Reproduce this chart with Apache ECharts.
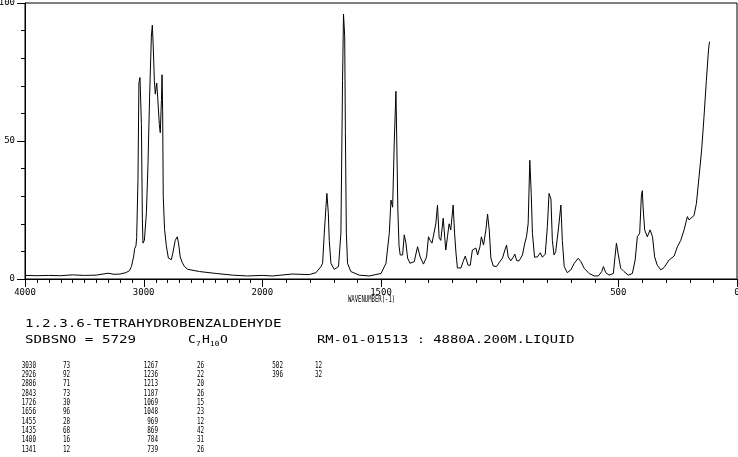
<!DOCTYPE html>
<html>
<head>
<meta charset="utf-8">
<script src="https://cdn.jsdelivr.net/npm/echarts@6/dist/echarts.min.js"></script>
<style>
  html, body { margin: 0; padding: 0; background: #fff; }
  #chart { width: 738px; height: 457px; }
</style>
</head>
<body>
<div id="chart"></div>
<script>
// spectrum trace (wavenumber cm-1, intensity %)
var wavenumber = [4000,3900,3800,3700,3600,3500,3400,3300,3250,3200,3150,3120,3103,3085,3076,3065,3059,3048,3040,3031,
  3019,3011,3006,2994,2977,2964,2950,2935,2927,2919,2910,2902,2890,2882,2868,2860,2850,2845,2840,2835,
  2824,2809,2792,2767,2754,2734,2717,2706,2692,2675,2656,2628,2529,2389,2252,2126,2000,1958,1874,1802,
  1774,1753,1746,1739,1732,1728,1722,1718,1711,1697,1679,1669,1662,1658,1653,1650,1646,1641,1627,1592,
  1550,1500,1479,1465,1458,1451,1444,1437,1433,1429,1424,1419,1409,1402,1395,1388,1378,1360,1346,1341,
  1335,1321,1308,1300,1293,1285,1276,1269,1262,1255,1248,1238,1227,1220,1213,1206,1196,1190,1184,1178,
  1163,1154,1145,1140,1133,1124,1115,1100,1093,1083,1077,1068,1058,1051,1044,1037,1027,1013,999,988,
  978,971,964,953,943,936,928,918,904,894,887,880,873,867,862,853,841,829,820,808,
  799,792,784,778,771,764,752,742,736,728,715,700,686,669,658,644,623,602,584,570,
  563,553,539,521,514,508,500,490,476,468,458,455,441,429,420,410,403,399,395,389,
  378,366,356,347,336,321,307,286,265,251,237,223,209,202,195,181,171,160,149,139,
  129,120,116];
var intensity = [1.3,1.2,1.3,1.2,1.5,1.3,1.4,2.1,1.7,1.8,2.3,3.0,4.5,8,11,12,15,36,71,73,
  56,22,13,14,24,41,66,88,92,84,72,67,71,66,56,53,65,74,61,30,
  18,12,7.6,7,9.4,14,15.3,13,8,6,4.5,3.5,2.7,2,1.4,1.1,1.3,1.1,1.8,1.6,
  2.3,4.5,5.7,16.6,26,31,24,14,5.7,3.5,4.5,16.6,72,96,88,53,16.6,5.7,2.7,1.4,
  1.1,2,5.7,16.6,28.6,26,50,68,47,25,12,8.7,8.7,16,13,7.6,5.7,6.3,11.7,12,
  8,5.4,8,15.3,14,13,17,20,26.8,15,14,22,10.5,15.3,20,17.8,26.8,16.6,9.4,4,
  4,6.3,8.3,8.3,5,5,10.5,11.2,8.7,11.7,15.3,12.3,17.8,23.5,17.8,7.6,4.7,4.5,6.3,7.6,
  10.5,12.3,8,6.6,7.9,9,6.6,6.6,8.7,13,15.3,20,43,31,16.6,7.9,8,9.5,7.9,9,
  19,31,29,14,8.7,9.9,18.5,26.8,14,4.5,2.3,3.3,5.7,7.5,6.3,3.9,2,1.1,1.1,2.7,
  4.5,2.3,1.4,2,8,13,8.7,3.9,2.7,3.3,1.4,0.9,2,6.9,15.3,16.6,30,32,25,17.8,
  15.3,17.8,15.3,8,5,3.3,4.2,6.9,8.3,11.7,14,17.8,22.6,21.4,21,23,27.4,37,46.7,58.8,
  72,83,86];

// axis ticks and labels (wavenumber)
var tickWave = [];
for (var t = 0; t <= 4000; t += 100) tickWave.push(t);
var labelWave = [4000, 3000, 2000, 1500, 500, 0];

// peak table
var peakWave = ['3030','2926','2886','2843','1726','1656','1455','1435','1400','1341',
  '1267','1236','1213','1187','1069','1048','969','869','784','739','502','396'];
var peakInt = ['73','92','71','73','30','96','28','68','16','12',
  '26','22','20','26','15','23','12','42','31','26','12','32'];

// the scale is halved above 2000 cm-1
function toU(w) { return w > 2000 ? 2000 + (w - 2000) / 2 : w; }
function toW(u) { return u > 2000 ? 2000 + (u - 2000) * 2 : u; }

var MONO = 'DejaVu Sans Mono';
function txt(x, y, s, size, sx, align) {
  return {
    type: 'text', x: x, y: y, scaleX: sx, silent: true,
    style: { text: s, fontSize: size, fontFamily: MONO, fill: '#000',
      align: align || 'left', verticalAlign: 'middle' }
  };
}

var graphics = [];
graphics.push(txt(25, 324, '1.2.3.6-TETRAHYDROBENZALDEHYDE', 10, 1.42));
graphics.push(txt(25, 340, 'SDBSNO = 5729', 10, 1.42));
graphics.push(txt(188, 340, 'C', 10, 1.3));
graphics.push(txt(196, 344, '7', 7, 1.1));
graphics.push(txt(202, 340, 'H', 10, 1.3));
graphics.push(txt(210, 344, '10', 7, 1.1));
graphics.push(txt(220, 340, 'O', 10, 1.3));
graphics.push(txt(317, 340, 'RM-01-01513 : 4880A.200M.LIQUID', 10, 1.38));
graphics.push(txt(348, 300, 'WAVENUMBER(-1)', 8, 0.7));

var colWn = [36, 158, 283], colInt = [63, 197, 315];
for (var i = 0; i < peakWave.length; i++) {
  var c = Math.floor(i / 10), r = i % 10;
  var y = 365.5 + r * 9.3;
  graphics.push(txt(colWn[c], y, peakWave[i], 9, 0.66, 'right'));
  graphics.push(txt(colInt[c], y, peakInt[i], 9, 0.66, 'left'));
}

var trace = wavenumber.map(function (w, k) { return [toU(w), intensity[k]]; });
// x ticks: every 100 cm-1, long ones at the labelled values
var tickData = tickWave.map(function (w) {
  return [toU(w), labelWave.indexOf(w) >= 0 ? 8 : 4];
});

var chart = echarts.init(document.getElementById('chart'), null, { renderer: 'canvas' });
chart.setOption({
  animation: false,
  backgroundColor: '#fff',
  grid: {
    left: 25, right: 1, top: 3, bottom: 178,
    outerBoundsMode: 'none', containLabel: false,
    show: true, borderColor: '#000', borderWidth: 1
  },
  xAxis: {
    type: 'value', min: 0, max: 3000, inverse: true, position: 'bottom',
    axisLine: { show: true, onZero: false, lineStyle: { color: '#000', width: 1 } },
    axisTick: { show: false },
    axisLabel: {
      customValues: labelWave.map(toU), margin: 9, color: '#000',
      fontFamily: MONO, fontSize: 9,
      formatter: function (v) { return String(Math.round(toW(v))); }
    },
    splitLine: { show: false }
  },
  yAxis: [
    {
      type: 'value', min: 0, max: 100, interval: 10, position: 'left',
      axisLine: { show: true, onZero: false, lineStyle: { color: '#000' } },
      axisTick: { show: true, length: 4, lineStyle: { color: '#000' } },
      axisLabel: {
        margin: 10, color: '#000', fontFamily: MONO, fontSize: 9,
        formatter: function (v) { return v % 50 === 0 ? String(v) : ''; }
      },
      splitLine: { show: false }
    },
    {
      type: 'value', min: 0, max: 100, interval: 50, position: 'left',
      axisLine: { show: true, onZero: false, lineStyle: { color: '#000' } },
      axisTick: { show: true, length: 8, lineStyle: { color: '#000' } },
      axisLabel: { show: false },
      splitLine: { show: false }
    }
  ],
  series: [
    {
      type: 'line',
      xAxisIndex: 0, yAxisIndex: 0,
      data: trace,
      showSymbol: false,
      lineStyle: { color: '#000', width: 1 },
      silent: true
    },
    {
      type: 'custom',
      xAxisIndex: 0, yAxisIndex: 0,
      clip: false,
      silent: true,
      z: 10,
      data: tickData,
      renderItem: function (params, api) {
        var p = api.coord([api.value(0), 0]);
        var x = Math.round(p[0]);
        var y0 = Math.round(p[1]);
        return {
          type: 'rect',
          shape: { x: x, y: y0, width: 1, height: api.value(1) },
          style: { fill: '#000' }
        };
      }
    }
  ],
  graphic: graphics
});
</script>
</body>
</html>
